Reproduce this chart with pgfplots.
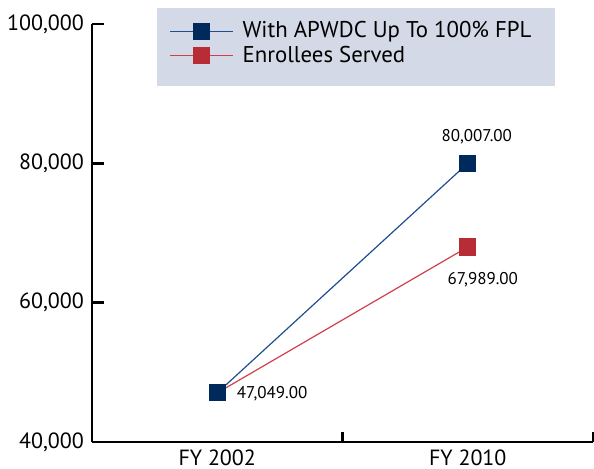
\documentclass[border=0pt]{standalone}
\usepackage{pgfplots}
\pgfplotsset{compat=1.18}
\usepackage{fontspec}
\setmainfont{PT Sans}
\definecolor{navy}{RGB}{0,42,92}
\definecolor{navyline}{RGB}{31,78,140}
\definecolor{brick}{RGB}{184,44,54}
\definecolor{brickline}{RGB}{208,64,74}
\definecolor{legfill}{RGB}{211,217,230}
\begin{document}
\begin{tikzpicture}
\useasboundingbox (-46pt,-13.5pt) rectangle (251pt,221pt);
\begin{axis}[
  at={(0,0)}, anchor=south west,
  scale only axis,
  width=250.5pt, height=209pt,
  xmin=-0.5, xmax=1.5,
  ymin=40000, ymax=100000,
  axis lines=left,
  axis line style={-, line width=1.3pt, black},
  xtick={0,1},
  xticklabels={FY 2002, FY 2010},
  major x tick style={draw=none},
  minor xtick={0.5,1.5},
  minor tick length=5pt,
  minor x tick style={line width=1.2pt, black},
  ytick={40000,60000,80000,100000},
  major tick length=6pt,
  tick align=inside,
  y tick style={line width=1.2pt, black},
  scaled y ticks=false,
  yticklabel={\pgfmathprintnumber[fixed, 1000 sep={,}]{\tick}},
  /pgf/number format/assume math mode=true,
  ticklabel style={font=\fontsize{11}{13}\selectfont},
  yticklabel style={xshift=-0.5pt},
  xticklabel style={yshift=-0.5pt},
  clip=false,
  legend style={
    at={(0.1537,0.9533)}, anchor=west,
    fill=none, draw=none,
    font=\fontsize{11.4}{13}\selectfont,
    inner sep=0pt,
    row sep=-1.3pt,
    text depth=0pt,
  },
  reverse legend,
  legend cell align=left,
  legend image code/.code={
    \draw[mark repeat=2, mark phase=2] plot coordinates {(0pt,0pt) (15.75pt,0pt) (31.5pt,0pt)};
  },
]
\fill[legfill] (rel axis cs:0.1297,1.0383) rectangle (rel axis cs:0.924,0.8517);
\addplot[color=brickline, line width=0.6pt, mark=square*, mark size=4pt,
  mark options={fill=brick, draw=brick}] coordinates {(0,47049) (1,67989)};
\addlegendentry{\hspace*{2.5pt}Enrollees Served}
\addplot[color=navyline, line width=0.6pt, mark=square*, mark size=4pt,
  mark options={fill=navy, draw=navy}] coordinates {(0,47049) (1,80007)};
\addlegendentry{\hspace*{2.5pt}With APWDC Up To 100\% FPL}
\node[font=\fontsize{8.5}{10}\selectfont, anchor=west] at (axis cs:0.05,47000) {47,049.00};
\node[font=\fontsize{8.5}{10}\selectfont] at (axis cs:1.036,83750) {80,007.00};
\node[font=\fontsize{8.5}{10}\selectfont] at (axis cs:1.06,63250) {67,989.00};
\end{axis}
\end{tikzpicture}
\end{document}
